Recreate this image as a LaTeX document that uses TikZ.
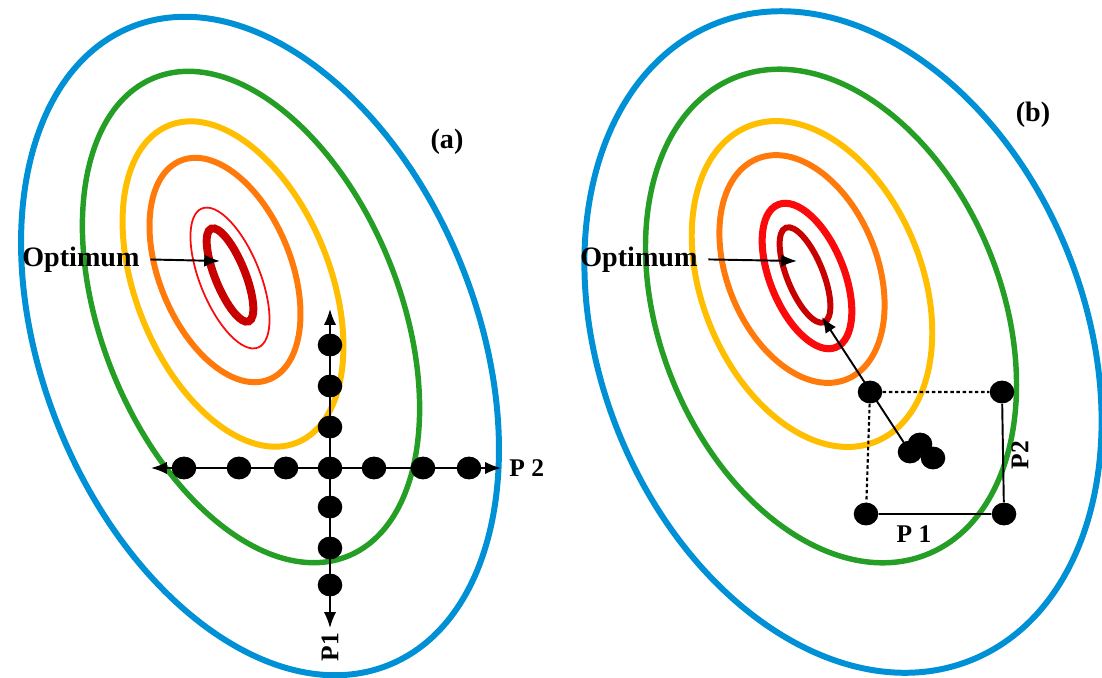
\documentclass[tikz,border=0pt]{standalone}
\usepackage{fontspec}
\setmainfont{Liberation Serif}
\usetikzlibrary{arrows.meta,shapes.geometric}

\definecolor{lvlblue}{RGB}{0,144,214}
\definecolor{lvlgreen}{RGB}{36,158,36}
\definecolor{lvlyellow}{RGB}{255,190,0}
\definecolor{lvlorange}{RGB}{255,122,10}
\definecolor{lvlred}{RGB}{250,10,10}
\definecolor{lvldark}{RGB}{200,0,0}

\begin{document}
\begin{tikzpicture}[x=0.02cm,y=-0.02cm,
    dot/.style={ellipse,fill=black,inner sep=0,minimum width=14pt,minimum height=13pt},
    lbl/.style={font=\bfseries\fontsize{16}{19}\selectfont,inner sep=0},
    plbl/.style={font=\bfseries\fontsize{14.5}{17}\selectfont,inner sep=0},
    tip/.style={-{Latex[length=9pt,width=7pt]}},
    axis/.style={line width=1.1pt,{Latex[length=9pt,width=7pt]}-{Latex[length=9pt,width=7pt]}}]
  \useasboundingbox (0,0) rectangle (1102,677);

  % level curves, (a) then (b)
  \foreach \cx/\cy/\rx/\ry/\col/\lw in {
      260/346/217/344/lvlblue/3.4, 251/317/149/258/lvlgreen/3.1,
      233/284/97/171/lvlyellow/3.4, 225/270/66/118/lvlorange/3.4,
      230/278/30/75/lvlred/1.0, 230/275/15/50/lvldark/4.5,
      843/342/242/343/lvlblue/3.4, 831/316/171/257/lvlgreen/3.1,
      812/284/110/170/lvlyellow/3.4, 802/269/75/119/lvlorange/3.4,
      807/276/37/77/lvlred/4.0, 805/275/18/51/lvldark/3.4}
    \draw[\col,line width=\lw pt,rotate around={22:(\cx,\cy)}]
      (\cx,\cy) ellipse [x radius=\rx,y radius=\ry];

  % (a) one factor at a time
  \node[lbl] (taga) at (447,142) {(a)};
  \node[lbl,anchor=base west] (opta) at (22,266) {Optimum};
  \coordinate (mina) at (220,261);
  \draw[tip,line width=1.1pt,shorten <=6pt] (opta.east) -- (mina);

  \foreach \x [count=\i] in {184,239,286,330,374,423,469}
    \node[dot] (h\i) at (\x,468) {};
  \foreach \y [count=\i] in {345,386,427,507,548,585}
    \node[dot] (v\i) at (330,\y) {};
  \coordinate (hl) at (151,468);
  \coordinate (hr) at (501,468);
  \coordinate (vt) at (330,309);
  \coordinate (vb) at (330,628);
  \draw[axis] (hl) -- (hr);
  \draw[axis] (vt) -- (vb);
  \node[plbl,anchor=west] (p2a) at (509,468) {P 2};
  \node[plbl,rotate=90] (p1a) at (330,647) {P1};

  % (b) design of experiments
  \node[lbl] (tagb) at (1033,115) {(b)};
  \node[lbl,anchor=base west] (optb) at (580,266) {Optimum};
  \coordinate (minb) at (797,261);
  \draw[tip,line width=1.1pt,shorten <=6pt] (optb.east) -- (minb);

  \node[dot] (tl) at (870,392) {};
  \node[dot] (tr) at (1002,392) {};
  \node[dot] (bl) at (866,514) {};
  \node[dot] (br) at (1004,514) {};
  \node[dot] (c1) at (910,452) {};
  \node[dot] (c2) at (920,444) {};
  \node[dot] (c3) at (933,458) {};
  \draw[line width=1.2pt,dash pattern=on 2pt off 1.5pt] (tl) -- (tr) (tl) -- (bl);
  \draw[line width=1.1pt] (tr) -- (br) (br) -- (bl);
  \coordinate (tipb) at (822,317);
  \draw[tip,line width=1.1pt] (c1.center) -- (tipb);
  \node[plbl] (p1b) at (914,534) {P 1};
  \node[plbl,rotate=90] (p2b) at (1020,455) {P2};
\end{tikzpicture}
\end{document}
